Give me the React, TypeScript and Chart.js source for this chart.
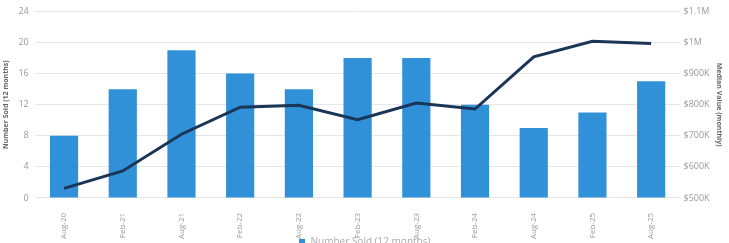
import React, { useEffect, useRef } from "react";
import { Chart, registerables } from "chart.js";

Chart.register(...registerables);

const categories = ["Aug-20", "Feb-21", "Aug-21", "Feb-22", "Aug-22", "Feb-23", "Aug-23", "Feb-24", "Aug-24", "Feb-25", "Aug-25"];
const numberSold = [8, 14, 19, 16, 14, 18, 18, 12, 9, 11, 15];
const medianValue = [531000, 587000, 705000, 792000, 798000, 752000, 805000, 786000, 954000, 1004000, 997000];
const leftTicks = [0, 4, 8, 12, 16, 20, 24];
const rightTicks = [500000, 600000, 700000, 800000, 900000, 1000000, 1100000];
const legendLabel = "Number Sold (12 months)";

const BAR_COLOR = "#3090d8";

function money(v: number): string {
  if (v >= 1000000) return "$" + (v / 1000000).toString() + "M";
  return "$" + Math.round(v / 1000) + "K";
}

export default function App() {
  const ref = useRef<HTMLCanvasElement | null>(null);
  useEffect(() => {
    document.body.style.margin = "0";
    const ctx = ref.current!;
    const chart = new Chart(ctx, {
      type: "bar",
      data: {
        labels: categories,
        datasets: [
          {
            type: "line",
            label: "Median Value (monthly)",
            data: medianValue,
            yAxisID: "y1",
            borderColor: "#1b3556",
            backgroundColor: "#1b3556",
            borderWidth: 3,
            pointRadius: 0,
            tension: 0,
            order: 0,
          },
          {
            type: "bar",
            label: legendLabel,
            data: numberSold,
            yAxisID: "y",
            backgroundColor: BAR_COLOR,
            barPercentage: 0.48,
            categoryPercentage: 1,
            order: 1,
          },
        ],
      },
      options: {
        animation: false,
        responsive: false,
        layout: { padding: { top: 0, left: 0, right: 4, bottom: 0 } },
        plugins: {
          legend: { display: false },
          tooltip: { enabled: false },
        },
        scales: {
          x: {
            grid: { display: false },
            border: { display: false },
            ticks: {
              minRotation: 90,
              maxRotation: 90,
              padding: 7,
              color: "#999",
              font: { family: "Open Sans", size: 8 },
            },
          },
          y: {
            position: "left",
            min: 0,
            max: 24,
            afterBuildTicks: (axis: any) => {
              axis.ticks = leftTicks.map((v) => ({ value: v }));
            },
            grid: { color: "#e6e6e6", lineWidth: 1, drawTicks: false },
            border: { display: false },
            ticks: { color: "#999", font: { family: "Open Sans", size: 9 }, padding: 6 },
            title: {
              display: true,
              text: "Number Sold (12 months)",
              color: "#666",
              font: { family: "Open Sans", size: 7, weight: "bold" },
              padding: 2,
            },
          },
          y1: {
            position: "right",
            min: 500000,
            max: 1100000,
            afterBuildTicks: (axis: any) => {
              axis.ticks = rightTicks.map((v) => ({ value: v }));
            },
            grid: { drawOnChartArea: false, drawTicks: false },
            border: { display: false },
            ticks: {
              color: "#999",
              font: { family: "Open Sans", size: 9 },
              padding: 3,
              callback: (v: any) => money(Number(v)),
            },
            title: {
              display: true,
              text: "Median Value (monthly)",
              color: "#666",
              font: { family: "Open Sans", size: 7, weight: "bold" },
              padding: 2,
            },
          },
        },
      },
    });
    return () => chart.destroy();
  }, []);
  return (
    <div style={{ position: "relative", width: 729, height: 243, overflow: "hidden" }}>
      <canvas ref={ref} width={729} height={246} style={{ display: "block" }} />
      <div
        style={{
          position: "absolute",
          left: 0,
          width: 729,
          top: 235,
          textAlign: "center",
          fontFamily: "Open Sans",
          fontSize: 10,
          lineHeight: "12px",
          color: "#aaa",
          whiteSpace: "nowrap",
        }}
      >
        <span style={{ display: "inline-block", width: 6, height: 6, background: BAR_COLOR, marginRight: 6, verticalAlign: "middle" }} />
        {legendLabel}
      </div>
    </div>
  );
}
